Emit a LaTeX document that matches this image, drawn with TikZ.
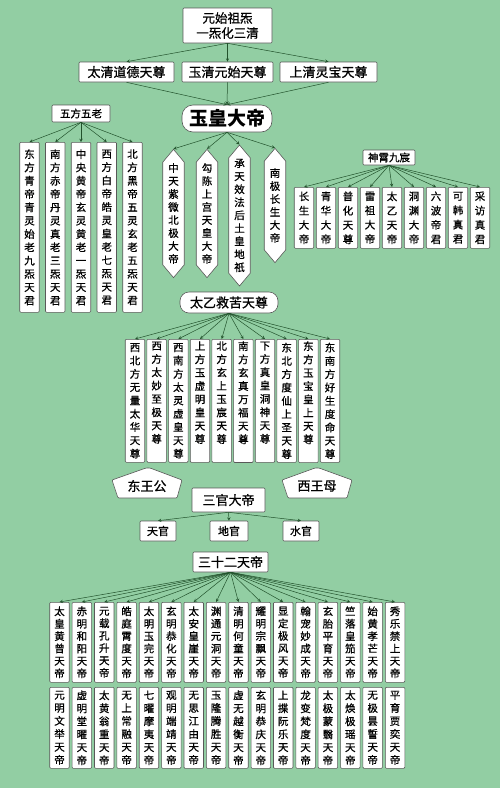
\documentclass[tikz,border=0pt]{standalone}
\usepackage{fontspec}
\setmainfont{Noto Sans CJK SC}[UprightFeatures={FakeBold=0.8}]
\usepackage{xcolor}
\usetikzlibrary{arrows,shapes.symbols}
\XeTeXlinebreaklocale "zh"
\XeTeXlinebreakskip=0pt plus 1pt

\definecolor{bggreen}{RGB}{146,206,163}
\definecolor{linegreen}{RGB}{34,82,44}

\begin{document}
\begin{tikzpicture}[x=1pt,y=-1pt,
  box/.style={draw=black!65,fill=white,line width=0.6pt,inner sep=1pt,rounded corners=1pt},
  col/.style={box,text width=11.5pt,align=center,inner xsep=4pt,inner ysep=2pt,anchor=north,
    font=\fontsize{10.5}{#1}\selectfont},
  col/.default=13,
  lens/.style={draw=black!65,fill=white,line width=0.6pt,signal,signal to=north and south,
    signal pointer angle=80,text width=11.5pt,align=center,inner xsep=5pt,inner ysep=1pt,
    font=\fontsize{10.5}{13}\selectfont},
  arr/.style={draw=linegreen,line width=0.5pt,->,>=stealth}]

\useasboundingbox (0,0) rectangle (500,788);
\fill[bggreen] (0,0) rectangle (500,788);

% top
\node[box,align=center,minimum width=89,minimum height=35,font=\fontsize{12.5}{15}\selectfont] (yuanshi) at (227.5,25.5) {元始祖炁\\一炁化三清};
\node[box,minimum width=95,minimum height=20,font=\fontsize{13}{15}\selectfont] (taiqing) at (126.5,72) {太清道德天尊};
\node[box,minimum width=91,minimum height=20,font=\fontsize{13}{15}\selectfont] (yuqing) at (227.5,72) {玉清元始天尊};
\node[box,minimum width=97,minimum height=20,font=\fontsize{13}{15}\selectfont] (shangqing) at (328.5,72) {上清灵宝天尊};
\node[box,rounded corners=11pt,minimum width=90,minimum height=27,font=\fontsize{19}{21}\selectfont\bfseries] (yuhuang) at (227,118.5) {玉皇大帝};

\draw[arr] (yuanshi.south) -- (taiqing.north);
\draw[arr] (yuanshi.south) -- (yuqing.north);
\draw[arr] (yuanshi.south) -- (shangqing.north);
\draw[arr] (taiqing.south) -- (yuhuang.north);
\draw[arr] (yuqing.south) -- (yuhuang.north);
\draw[arr] (shangqing.south) -- (yuhuang.north);

% four emperors
\node[lens] (ziwei) at (173.5,213.5) {中天紫微北极大帝};
\node[lens] (gouchen) at (207,213.5) {勾陈上宫天皇大帝};
\node[lens] (houtu) at (239.5,215.5) {承天效法后土皇地祇};
\node[lens,inner ysep=7pt] (nanji) at (275,205.5) {南极长生大帝};
\foreach \n in {ziwei,gouchen,houtu,nanji}
  \draw[arr] (yuhuang.south) -- (\n.north);

% five elders
\node[box,minimum width=58,minimum height=17,font=\fontsize{10.5}{12}\selectfont] (wufang) at (81,113.5) {五方五老};
\foreach \t [count=\i] in {东方青帝青灵始老九炁天君,南方赤帝丹灵真老三炁天君,中央黄帝玄灵黄老一炁天君,西方白帝皓灵皇老七炁天君,北方黑帝五灵玄老五炁天君} {
  \node[col=13.3,minimum height=170] (lao\i) at ({29.5+25.75*(\i-1)},142) {\t};
  \draw[arr] (wufang.south) -- (lao\i.north);
}

% shenxiao
\node[box,minimum width=52,minimum height=15,font=\fontsize{10.5}{12}\selectfont] (shenxiao) at (389,157.5) {神霄九宸};
\foreach \t [count=\i] in {长生大帝,青华大帝,普化天尊,雷祖大帝,太乙天帝,洞渊大帝,六波帝君,可韩真君,采访真君} {
  \node[col=14.3,minimum height=61] (chen\i) at ({304+22*(\i-1)},187) {\t};
  \draw[arr] (shenxiao.south) -- (chen\i.north);
}

% taiyi
\node[box,rounded corners=9pt,minimum width=98,minimum height=21,font=\fontsize{13}{15}\selectfont] (taiyi) at (229,302.5) {太乙救苦天尊};
\foreach \t [count=\i] in {西北方无量太华天尊,西方太妙至极天尊\\\strut,西南方太灵虚皇天尊,上方玉虚明皇天尊\\\strut,北方玄上玉宸天尊\\\strut,南方玄真万福天尊\\\strut,下方真皇洞神天尊\\\strut,东北方度仙上圣天尊,东方玉宝皇上天尊\\\strut,东南方好生度命天尊} {
  \node[col=13.3,minimum height=123] (zun\i) at ({135+21.67*(\i-1)},339) {\t};
  \draw[arr] (taiyi.south) -- (zun\i.north);
}

% east and west
\draw[box] (146,468) -- (150,468) -- (182,480) -- (177,498) -- (118,498) -- (112,480) -- cycle;
\node[font=\fontsize{13}{15}\selectfont] (dongwang) at (147,486) {东王公};
\draw[box] (315,468) -- (319,468) -- (352,480) -- (347,498) -- (288,498) -- (282,480) -- cycle;
\node[font=\fontsize{13}{15}\selectfont] (xiwang) at (317,486) {西王母};

% sanguan
\node[box,minimum width=73,minimum height=24,font=\fontsize{13}{15}\selectfont] (sanguan) at (228.5,500) {三官大帝};
\node[box,minimum width=36,minimum height=20,font=\fontsize{11}{13}\selectfont] (tianguan) at (158,531) {天官};
\node[box,minimum width=38,minimum height=20,font=\fontsize{11}{13}\selectfont] (diguan) at (229,531) {地官};
\node[box,minimum width=36,minimum height=20,font=\fontsize{11}{13}\selectfont] (shuiguan) at (301,531) {水官};
\draw[arr] (sanguan.south) -- (tianguan.north);
\draw[arr] (sanguan.south) -- (diguan.north);
\draw[arr] (sanguan.south) -- (shuiguan.north);

% thirty-two
\node[box,minimum width=75,minimum height=20,font=\fontsize{13}{15}\selectfont] (sanshier) at (230.5,562) {三十二天帝};
\foreach \t [count=\i] in {太皇黄曾,赤明和阳,元载孔升,皓庭霄度,太明玉完,玄明恭化,太安皇崖,渊通元洞,清明何童,耀明宗飘,显定极风,翰宠妙成,玄胎平育,竺落皇笳,始黄孝芒,秀乐禁上} {
  \node[col=12.4,minimum height=80] (dia\i) at ({59.5+22.37*(\i-1)},602) {\t 天帝};
  \draw[arr] (sanshier.south) -- (dia\i.north);
}
\foreach \t [count=\i] in {元明文举,虚明堂曜,太黄翁重,无上常融,七曜摩夷,观明端靖,无思江由,玉隆腾胜,虚无越衡,玄明恭庆,上揲阮乐,龙变梵度,太极蒙翳,太焕极瑶,无极昙誓,平育贾奕}
  \node[col=13,minimum height=81] (dib\i) at ({59.5+22.37*(\i-1)},687) {\t 天帝};

\end{tikzpicture}
\end{document}
